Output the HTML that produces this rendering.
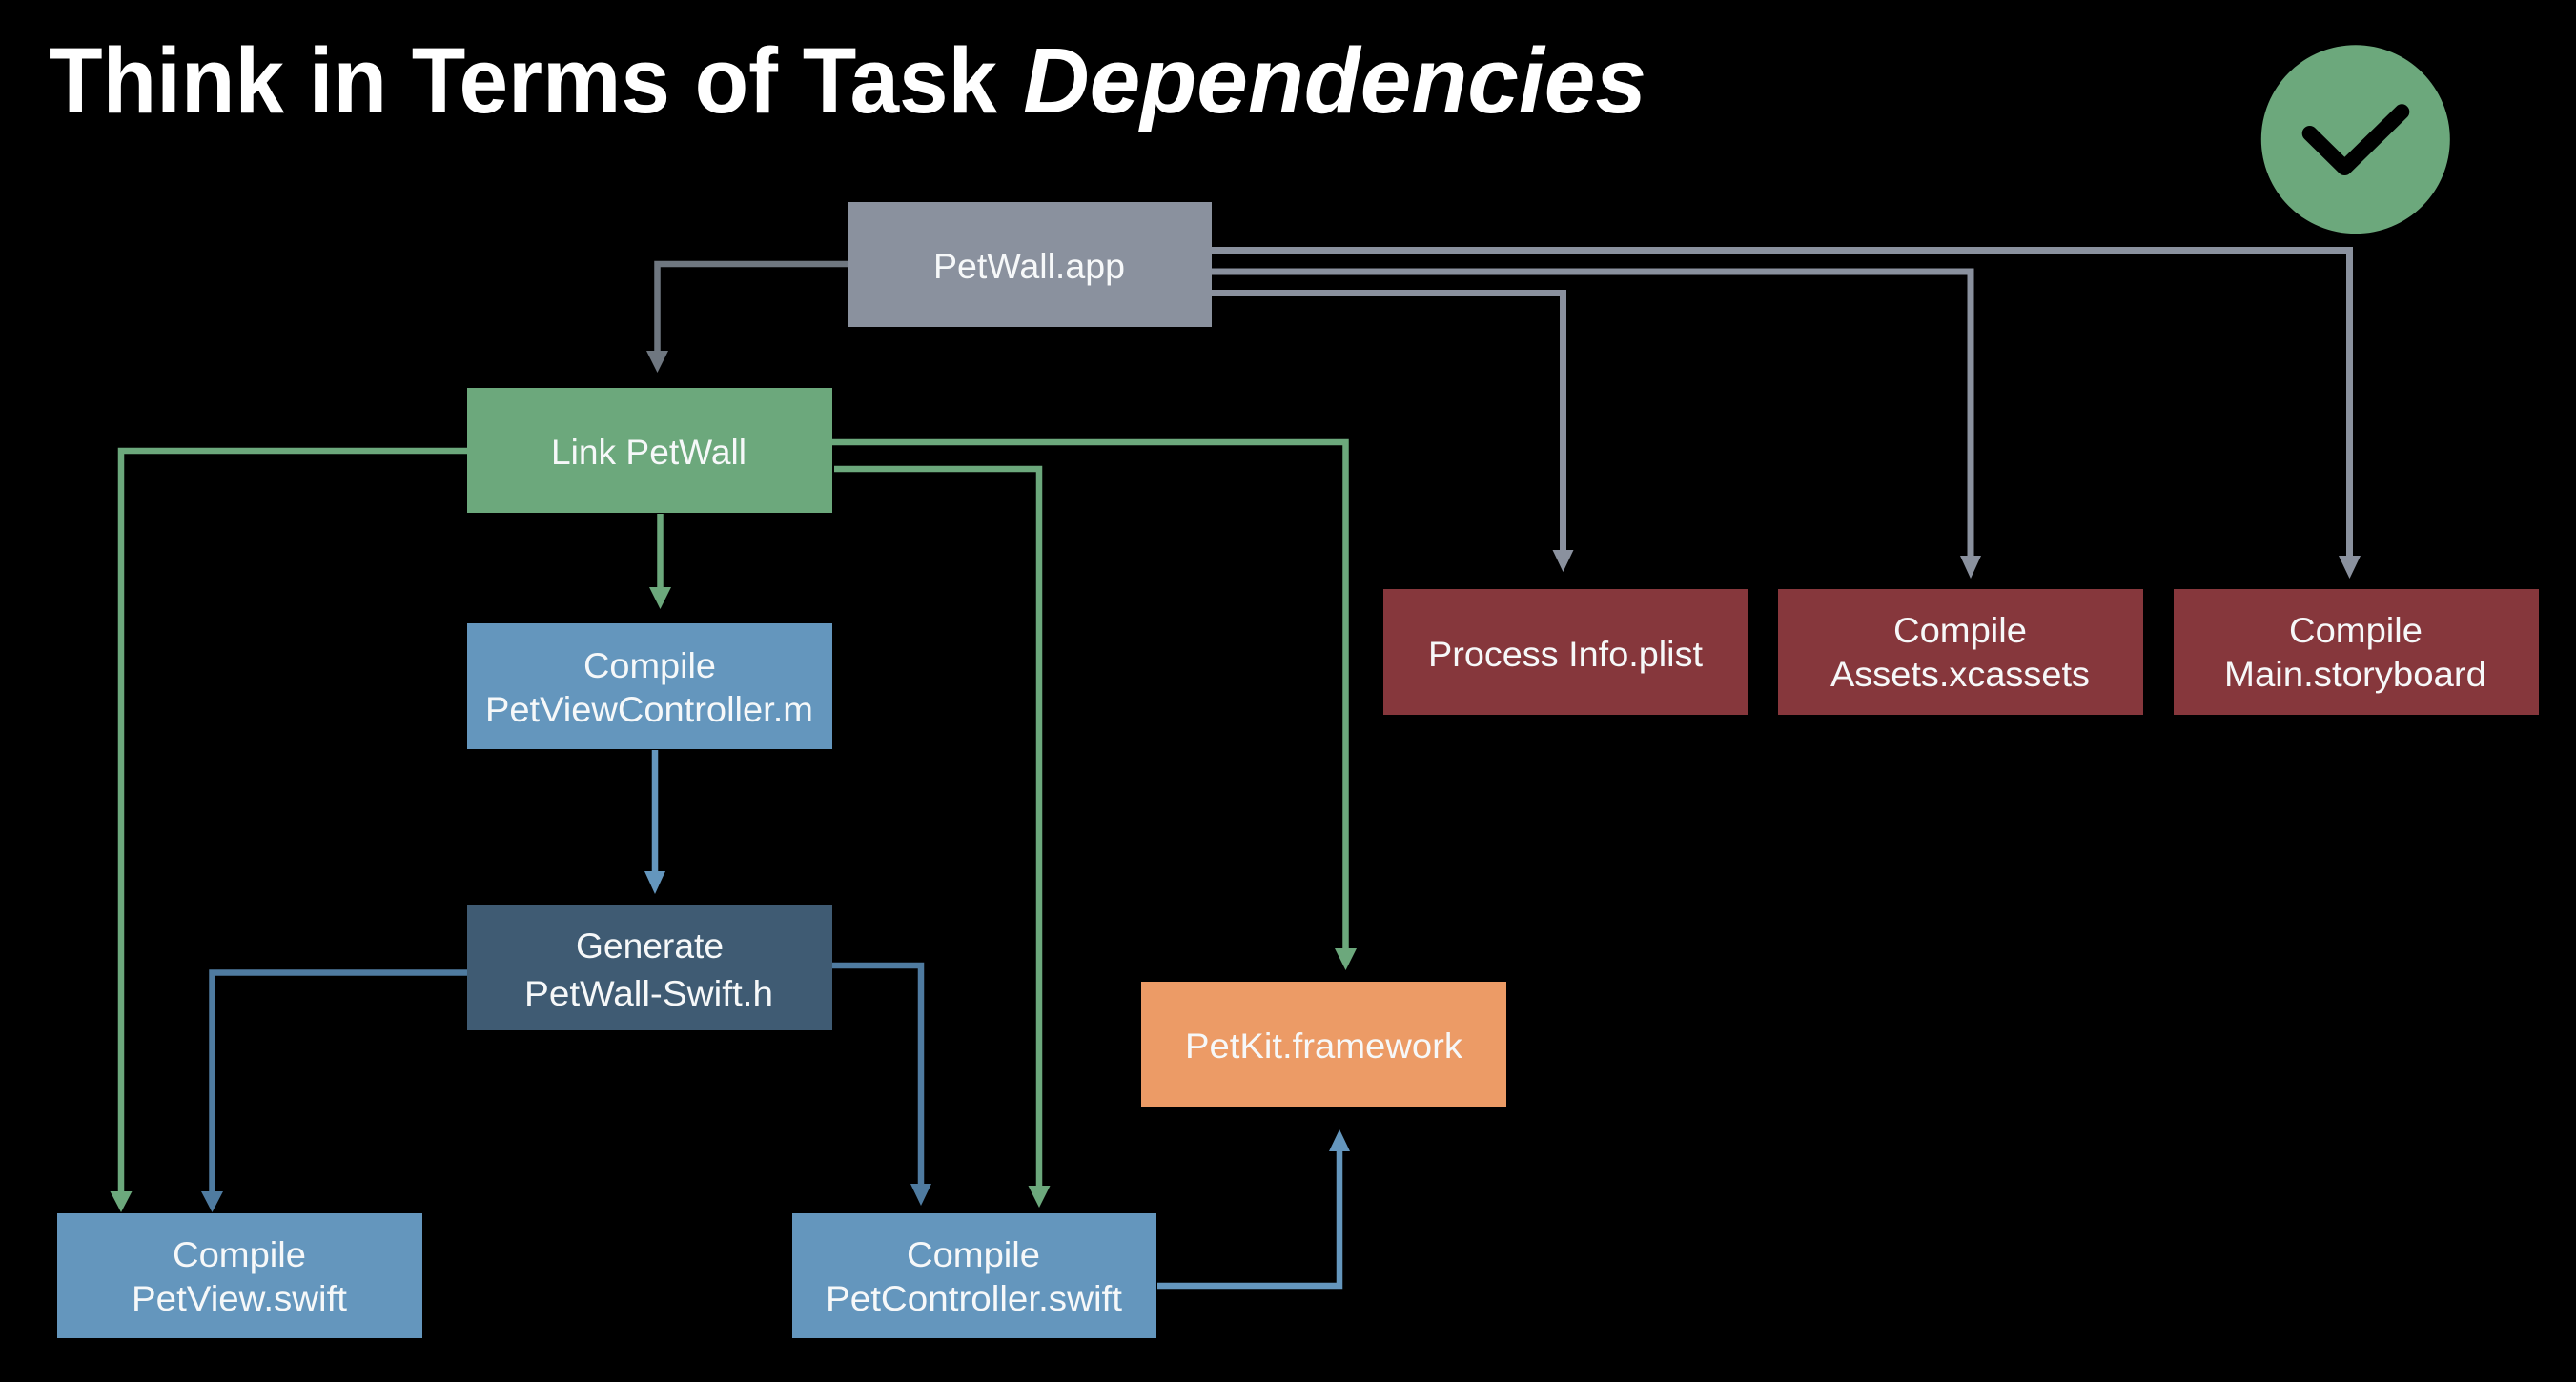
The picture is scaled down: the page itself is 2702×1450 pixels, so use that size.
<!DOCTYPE html>
<html><head><meta charset="utf-8"><title>Think in Terms of Task Dependencies</title>
<style>html,body{margin:0;padding:0;background:#000}svg{display:block}
text{font-family:"Liberation Sans",sans-serif;fill:#fff}
.l{font-size:37px;fill:#f6f8f9}
</style></head><body>
<svg width="2702" height="1450" viewBox="0 0 2702 1450" xmlns="http://www.w3.org/2000/svg">
<rect width="2702" height="1450" fill="#000"/>
<text x="51" y="118" font-size="97" font-weight="700" textLength="995" lengthAdjust="spacingAndGlyphs">Think in Terms of Task</text>
<text x="1073" y="118" font-size="97" font-weight="700" font-style="italic" textLength="654" lengthAdjust="spacingAndGlyphs">Dependencies</text>
<circle cx="2470.800" cy="146.200" r="99" fill="#6ca87c"/>
<polyline points="2422.700,140 2459.300,176 2519.300,117.300" fill="none" stroke="#000" stroke-width="16" stroke-linecap="round" stroke-linejoin="round"/>

<g fill="none" stroke-width="6.500">
<path d="M889 277H689.500V370" stroke="#6f7780"/>
<path d="M1271 262.500H2464.500V585" stroke="#8a919e" stroke-width="7"/>
<path d="M1271 285H2067V585" stroke="#8a919e" stroke-width="7"/>
<path d="M1271 307.500H1639.500V579" stroke="#8a919e" stroke-width="7"/>
<path d="M692.500 539V618" stroke="#6ca87c"/>
<path d="M490 473H127V1252" stroke="#6ca87c"/>
<path d="M873 464H1411.500V997" stroke="#6ca87c"/>
<path d="M875 492H1090V1246" stroke="#6ca87c"/>
<path d="M687 787V916" stroke="#6496bd"/>
<path d="M490 1020.500H222.500V1252" stroke="#4f7ba0"/>
<path d="M873 1013H966V1244" stroke="#4f7ba0"/>
<path d="M1214 1349H1405V1206" stroke="#6496bd"/>
</g>
<g>
<polygon points="678,368 701,368 689.500,391" fill="#6f7780"/>
<polygon points="2453,583 2476,583 2464.500,607" fill="#8a919e"/>
<polygon points="2056,583 2078,583 2067,607" fill="#8a919e"/>
<polygon points="1628.500,577 1650.500,577 1639.500,600" fill="#8a919e"/>
<polygon points="681,616 704,616 692.500,639" fill="#6ca87c"/>
<polygon points="115.500,1250 138.500,1250 127,1272" fill="#6ca87c"/>
<polygon points="1400,995 1423,995 1411.500,1018" fill="#6ca87c"/>
<polygon points="1078.500,1244 1101.500,1244 1090,1267" fill="#6ca87c"/>
<polygon points="676,914 698,914 687,938" fill="#6496bd"/>
<polygon points="211,1250 234,1250 222.500,1272" fill="#4f7ba0"/>
<polygon points="955,1242 977,1242 966,1265" fill="#4f7ba0"/>
<polygon points="1394,1208 1416,1208 1405,1185" fill="#6496bd"/>
</g>

<rect x="889" y="212" width="382" height="131" fill="#8a919e"/>
<rect x="490" y="407" width="383" height="131" fill="#6ca87c"/>
<rect x="490" y="654" width="383" height="132" fill="#6496bd"/>
<rect x="490" y="950" width="383" height="131" fill="#3f5b73"/>
<rect x="60" y="1273" width="383" height="131" fill="#6496bd"/>
<rect x="831" y="1273" width="382" height="131" fill="#6496bd"/>
<rect x="1197" y="1030" width="383" height="131" fill="#ec9b66"/>
<rect x="1451" y="618" width="382" height="132" fill="#86373c"/>
<rect x="1865" y="618" width="383" height="132" fill="#86373c"/>
<rect x="2280" y="618" width="383" height="132" fill="#86373c"/>

<text class="l" x="979" y="292" textLength="201" lengthAdjust="spacingAndGlyphs">PetWall.app</text>
<text class="l" x="578" y="487" textLength="205" lengthAdjust="spacingAndGlyphs">Link PetWall</text>
<text class="l" x="612" y="711" textLength="139" lengthAdjust="spacingAndGlyphs">Compile</text>
<text class="l" x="509" y="757" textLength="344" lengthAdjust="spacingAndGlyphs">PetViewController.m</text>
<text class="l" x="604" y="1005" textLength="155" lengthAdjust="spacingAndGlyphs">Generate</text>
<text class="l" x="550" y="1055" textLength="261" lengthAdjust="spacingAndGlyphs">PetWall-Swift.h</text>
<text class="l" x="181" y="1329" textLength="140" lengthAdjust="spacingAndGlyphs">Compile</text>
<text class="l" x="138" y="1375" textLength="226" lengthAdjust="spacingAndGlyphs">PetView.swift</text>
<text class="l" x="951" y="1329" textLength="140" lengthAdjust="spacingAndGlyphs">Compile</text>
<text class="l" x="866" y="1375" textLength="311" lengthAdjust="spacingAndGlyphs">PetController.swift</text>
<text class="l" x="1243" y="1110" textLength="291" lengthAdjust="spacingAndGlyphs">PetKit.framework</text>
<text class="l" x="1498" y="699" textLength="288" lengthAdjust="spacingAndGlyphs">Process Info.plist</text>
<text class="l" x="1986" y="674" textLength="140" lengthAdjust="spacingAndGlyphs">Compile</text>
<text class="l" x="1920" y="720" textLength="272" lengthAdjust="spacingAndGlyphs">Assets.xcassets</text>
<text class="l" x="2401" y="674" textLength="140" lengthAdjust="spacingAndGlyphs">Compile</text>
<text class="l" x="2333" y="720" textLength="275" lengthAdjust="spacingAndGlyphs">Main.storyboard</text>
</svg>
</body></html>
